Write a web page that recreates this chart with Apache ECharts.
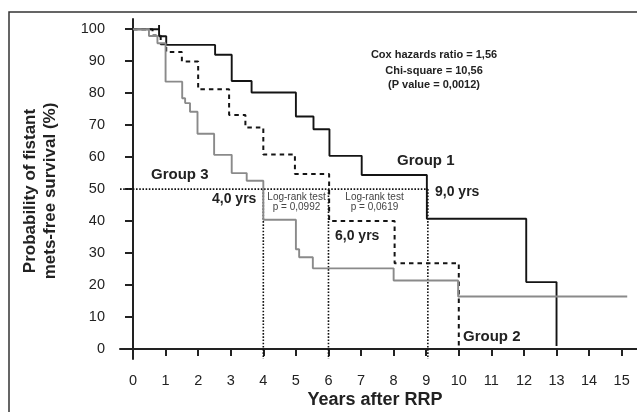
<!DOCTYPE html>
<html>
<head>
<meta charset="utf-8">
<script src="https://cdn.jsdelivr.net/npm/echarts@6/dist/echarts.min.js"></script>
<style>
html,body{margin:0;padding:0;background:#fff;}
#c{width:637px;height:412px;}
</style>
</head>
<body>
<div id="c"></div>
<script>
// ---- data ----
var xTicks = [0,1,2,3,4,5,6,7,8,9,10,11,12,13,14,15];
var yTicks = [0,10,20,30,40,50,60,70,80,90,100];

var group1Times = [0, 0.8, 0.8, 0.8, 1.02, 2.52, 3.03, 3.64, 5.0, 5.54, 6.03, 7.02, 9.02, 12.07, 13.0];
var group1Surv  = [100, 100, 101.3, 97.8, 95.1, 92.0, 83.8, 80.2, 72.7, 68.7, 60.4, 54.4, 40.7, 20.9, 0.9];

var group2Times = [0, 0.6, 0.85, 1.02, 1.5, 2.0, 2.95, 3.45, 4.0, 4.97, 6.02, 8.03, 10.0];
var group2Surv  = [100, 98.0, 95.3, 92.9, 89.9, 81.2, 73.2, 69.3, 60.8, 54.7, 40.0, 26.8, 0.9];

var group3Times = [0, 0.49, 0.75, 1.0, 1.51, 1.6, 1.75, 1.98, 2.49, 3.03, 3.49, 4.0, 5.0, 5.1, 5.52, 8.0, 9.98, 15.17];
var group3Surv  = [100, 97.9, 95.6, 83.6, 78.4, 76.9, 74.2, 67.3, 60.7, 55.0, 52.6, 40.4, 31.2, 28.7, 25.2, 21.4, 16.4, 16.4];

var medianLevel = 50;
var medianTimes = [4.0, 6.0, 9.05];

var statsLines = ['Cox hazards ratio = 1,56', 'Chi-square = 10,56', '(P value = 0,0012)'];
var logRank1 = ['Log-rank test', 'p = 0,0992'];
var logRank2 = ['Log-rank test', 'p = 0,0619'];

// ---- chart ----
var X_MIN = -0.399, X_MAX = 15.47, Y_MIN = -3.15, Y_MAX = 103.2;
function zip(a, b){ return a.map(function(v,i){ return [v, b[i]]; }); }

var FONT = '"Liberation Sans", Arial, Helvetica, sans-serif';
var TXT = '#222';

var refSeries = [];
refSeries.push({
  type:'line', data:[[X_MIN, medianLevel],[medianTimes[medianTimes.length-1], medianLevel]],
  symbol:'none', silent:true, z:1,
  lineStyle:{color:'#111', width:1.6, type:[1.6,1.6]}
});
medianTimes.forEach(function(t){
  refSeries.push({
    type:'line', data:[[t, medianLevel],[t, Y_MIN]],
    symbol:'none', silent:true, z:1,
    lineStyle:{color:'#111', width:1.6, type:[1.6,1.6]}
  });
});

var chart = echarts.init(document.getElementById('c'), null, {renderer:'canvas'});
var option = {
  animation:false,
  backgroundColor:'#fff',
  grid:{left:120, top:19, right:0, bottom:53, containLabel:false},
  xAxis:{
    type:'value', min:X_MIN, max:X_MAX,
    axisLine:{show:true, lineStyle:{color:'#222', width:2}},
    axisTick:{show:true, length:7, lineStyle:{color:'#222', width:2}, customValues:xTicks},
    axisLabel:{show:true, margin:14, fontSize:14.5, color:'#222', fontFamily:FONT, customValues:xTicks,
      formatter:function(v){ return String(Math.round(v)); }},
    splitLine:{show:false}
  },
  yAxis:{
    type:'value', min:Y_MIN, max:Y_MAX,
    axisLine:{show:true, lineStyle:{color:'#222', width:2}},
    axisTick:{show:true, length:8, lineStyle:{color:'#222', width:2}, customValues:yTicks},
    axisLabel:{show:true, margin:15, fontSize:14.5, color:'#222', fontFamily:FONT, customValues:yTicks,
      formatter:function(v){ return String(Math.round(v)); }},
    splitLine:{show:false}
  },
  series: refSeries.concat([
    {name:'Group 1', type:'line', step:'end', data:zip(group1Times, group1Surv), symbol:'none', z:3,
     lineStyle:{color:'#141414', width:1.9}},
    {name:'Group 2', type:'line', step:'end', data:zip(group2Times, group2Surv), symbol:'none', z:4,
     lineStyle:{color:'#141414', width:2, type:[4.5,4]}},
    {name:'Group 3', type:'line', step:'end', data:zip(group3Times, group3Surv), symbol:'none', z:5,
     lineStyle:{color:'#8a8a8a', width:1.9}}
  ]),
  graphic:[
    {type:'rect', shape:{x:9, y:12, width:700, height:500}, style:{fill:'none', stroke:'#333', lineWidth:1.5}, z:0, silent:true},
    {type:'text', x:40.5, y:191, rotation:Math.PI/2,
      style:{text:'Probability of fistant\nmets-free survival (%)', fontSize:17, fontWeight:'bold', fontFamily:FONT,
        fill:TXT, align:'center', verticalAlign:'middle', lineHeight:20}},
    {type:'text', x:375, y:400, style:{text:'Years after RRP', fontSize:18, fontWeight:'bold', fontFamily:FONT,
        fill:TXT, align:'center', verticalAlign:'middle'}},
    {type:'text', x:434, y:55, style:{text:statsLines[0], fontSize:11, fontWeight:'bold', fontFamily:FONT, fill:TXT, align:'center', verticalAlign:'middle'}},
    {type:'text', x:434, y:70.5, style:{text:statsLines[1], fontSize:11, fontWeight:'bold', fontFamily:FONT, fill:TXT, align:'center', verticalAlign:'middle'}},
    {type:'text', x:434, y:85, style:{text:statsLines[2], fontSize:11, fontWeight:'bold', fontFamily:FONT, fill:TXT, align:'center', verticalAlign:'middle'}},
    {type:'text', x:151, y:175, style:{text:'Group 3', fontSize:15, fontWeight:'bold', fontFamily:FONT, fill:TXT, align:'left', verticalAlign:'middle'}},
    {type:'text', x:397, y:160.5, style:{text:'Group 1', fontSize:15, fontWeight:'bold', fontFamily:FONT, fill:TXT, align:'left', verticalAlign:'middle'}},
    {type:'text', x:463, y:336.5, style:{text:'Group 2', fontSize:15, fontWeight:'bold', fontFamily:FONT, fill:TXT, align:'left', verticalAlign:'middle'}},
    {type:'text', x:212, y:199, style:{text:'4,0 yrs', fontSize:14, fontWeight:'bold', fontFamily:FONT, fill:TXT, align:'left', verticalAlign:'middle'}},
    {type:'text', x:435, y:192, style:{text:'9,0 yrs', fontSize:14, fontWeight:'bold', fontFamily:FONT, fill:TXT, align:'left', verticalAlign:'middle'}},
    {type:'text', x:335, y:236, style:{text:'6,0 yrs', fontSize:14, fontWeight:'bold', fontFamily:FONT, fill:TXT, align:'left', verticalAlign:'middle'}},
    {type:'text', x:296.5, y:197, style:{text:logRank1[0], fontSize:10, fontFamily:FONT, fill:'#444', align:'center', verticalAlign:'middle'}},
    {type:'text', x:296.5, y:207, style:{text:logRank1[1], fontSize:10, fontFamily:FONT, fill:'#444', align:'center', verticalAlign:'middle'}},
    {type:'text', x:374.5, y:197, style:{text:logRank2[0], fontSize:10, fontFamily:FONT, fill:'#444', align:'center', verticalAlign:'middle'}},
    {type:'text', x:374.5, y:207, style:{text:logRank2[1], fontSize:10, fontFamily:FONT, fill:'#444', align:'center', verticalAlign:'middle'}}
  ]
};
chart.setOption(option);
</script>
</body>
</html>
